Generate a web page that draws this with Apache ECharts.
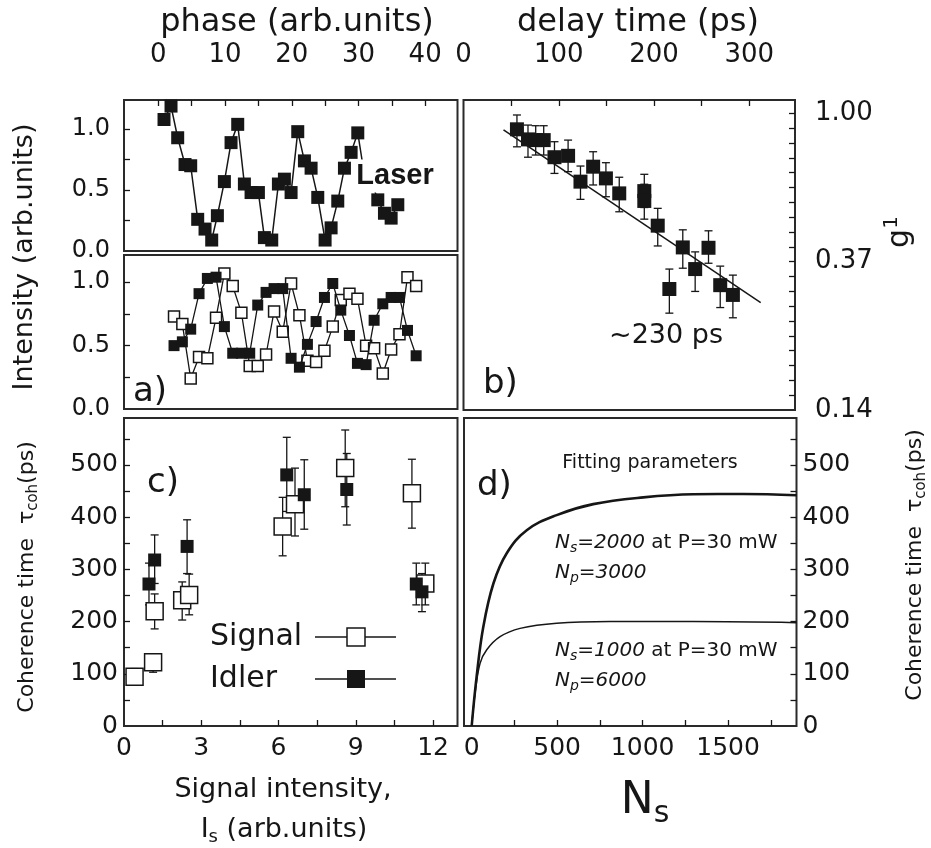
<!DOCTYPE html>
<html><head><meta charset="utf-8">
<script src="https://cdn.jsdelivr.net/npm/echarts@6/dist/echarts.min.js"></script>
<style>html,body{margin:0;padding:0;background:#fff}#c{width:931px;height:848px}</style>
</head><body><div id="c"></div>
<script>
// ---- panel a (top): laser ----
const laserPhase = [0.85,1.9,2.9,4.0,4.85,5.9,7.0,8.0,8.85,9.9,10.9,11.9,12.9,13.9,15.0,15.9,17.0,18.0,18.9,19.9,20.9,21.9,22.9,23.9,25.0,25.9,26.9,27.9,28.9,29.9,30.9,31.9,32.9,33.9,34.9,35.9];
const laserInt   = [1.08,1.19,0.93,0.71,0.70,0.26,0.18,0.09,0.29,0.57,0.89,1.04,0.55,0.48,0.48,0.11,0.09,0.55,0.59,0.48,0.98,0.74,0.68,0.44,0.09,0.19,0.41,0.68,0.81,0.97,0.62,0.58,0.42,0.31,0.27,0.38];
// ---- panel a (bottom): signal (open) and idler (filled) ----
const pairPhase = [2.35,3.6,4.85,6.1,7.35,8.65,9.9,11.15,12.45,13.7,14.9,16.15,17.35,18.65,19.9,21.15,22.35,23.65,24.9,26.15,27.35,28.65,29.85,31.15,32.35,33.65,34.9,36.15,37.35,38.65];
const idlerInt  = [0.50,0.53,0.63,0.91,1.03,1.04,0.65,0.44,0.44,0.44,0.82,0.92,0.95,0.95,0.40,0.33,0.51,0.69,0.88,0.99,0.78,0.58,0.36,0.35,0.70,0.83,0.88,0.88,0.62,0.42];
const signalInt = [0.73,0.67,0.24,0.41,0.40,0.72,1.07,0.97,0.76,0.34,0.34,0.43,0.77,0.61,0.99,0.74,0.38,0.37,0.46,0.65,0.86,0.91,0.87,0.50,0.48,0.28,0.47,0.59,1.04,0.97];
// ---- panel b: g1 vs delay time ----
const delayT = [56.1,67.7,75.8,84.2,95.5,109.8,122.8,136.1,149.5,163.5,189.8,189.8,203.9,216.1,230.2,243.2,257.2,269.5,282.8];
const g1     = [0.898,0.839,0.835,0.835,0.744,0.751,0.631,0.698,0.645,0.583,0.592,0.554,0.469,0.306,0.405,0.350,0.404,0.314,0.294];
const g1Lo   = [0.798,0.744,0.755,0.755,0.667,0.675,0.560,0.617,0.570,0.515,0.530,0.490,0.409,0.260,0.352,0.301,0.364,0.270,0.252];
const g1Hi   = [0.989,0.924,0.920,0.920,0.826,0.835,0.701,0.772,0.717,0.650,0.663,0.620,0.527,0.350,0.456,0.393,0.453,0.357,0.336];
const fitT = [42, 312];
const fitG = [0.894, 0.279];
// ---- panel c: coherence time vs signal intensity ----
const sigI   = [0.41,1.13,1.19,2.26,2.53,6.16,6.64,8.59,11.18,11.70];
const sigTau = [94.5,122,220,241,251,382,425,494,446,273];
const sigLo  = [78.5,103,186,203,213,326,364,420,379,232];
const sigHi  = [110,136,253,276,291,438,494,567,511,312];
const idlI   = [0.97,1.19,2.45,6.32,7.0,8.65,11.35,11.57];
const idlTau = [272,318,344,481,443,453,272,257];
const idlLo  = [232,273,292,411,377,385,232,219];
const idlHi  = [312,366,395,553,510,522,312,292];
// ---- panel d: fitted curves ----
const nsA  = [0,29,68,127,205,322,497,711,1004,1296,1588,1900];
const tauA = [0,95,190,273,331,375,404,425,438,444,444.5,442];
const nsB  = [0,20,49,88,166,283,497,809,1296,1900];
const tauB = [0,63,120,146,171,187,197,200,200,198];
// ---- tick labels ----
const phaseTicks = [0,10,20,30,40];
const delayTicks = [0,100,200,300];
const gTickLn    = [0,-1,-2];
const intTicks   = [0,0.5,1.0];
const isTicks    = [0,3,6,9,12];
const nsTicks    = [0,500,1000,1500];
const tauTicks   = [0,100,200,300,400,500];

const FONT = 'DejaVu Sans';
const INK = '#161616';
function range(a, b, s){ const r=[]; for(let v=a; v<=b+1e-9; v+=s) r.push(+v.toFixed(4)); return r; }

function axis(kind, grid, pos, min, max, labels, ticks, margin, fs, fmt){
  return {
    type:'value', gridIndex:grid, position:pos, min:min, max:max,
    axisLine:{show:false, onZero:false}, splitLine:{show:false},
    axisTick:{show: ticks!=null, inside:true, length:6, customValues:ticks||[], lineStyle:{color:INK,width:1.3}},
    axisLabel:{show: labels!=null, customValues:labels||[], margin:margin, fontSize:fs, fontFamily:FONT, color:INK,
      formatter: fmt || (v => String(v))}
  };
}

function errRender(params, api){
  const x = api.value(0);
  const lo = api.coord([x, api.value(1)]);
  const hi = api.coord([x, api.value(2)]);
  const cw = 4;
  const st = {stroke: INK, lineWidth: 1.3};
  return {type:'group', children:[
    {type:'line', shape:{x1:lo[0],y1:lo[1],x2:hi[0],y2:hi[1]}, style:st},
    {type:'line', shape:{x1:lo[0]-cw,y1:lo[1],x2:lo[0]+cw,y2:lo[1]}, style:st},
    {type:'line', shape:{x1:hi[0]-cw,y1:hi[1],x2:hi[0]+cw,y2:hi[1]}, style:st}
  ]};
}

const zip = (a,b) => a.map((v,i)=>[v,b[i]]);
const gridBase = {show:true, borderColor:'#2a2a2a', borderWidth:2, backgroundColor:'transparent', containLabel:false};

function txt(x, y, text, fs, opt){
  opt = opt || {};
  return {type:'text', x:x, y:y, z:100, rotation: opt.rot || 0,
    style: Object.assign({text:text, fontSize:fs, fontFamily:FONT, fill:INK,
      align: opt.align || 'center', verticalAlign: 'middle'}, opt.style || {})};
}

const subRich = (fs) => ({
  n:{fontSize:fs, fontFamily:FONT, fill:INK},
  ni:{fontSize:fs, fontFamily:FONT, fill:INK, fontStyle:'italic'},
  s:{fontSize:Math.round(fs*0.68), fontFamily:FONT, fill:INK, padding:[Math.round(fs*0.55),0,0,0]},
  si:{fontSize:Math.round(fs*0.68), fontFamily:FONT, fill:INK, fontStyle:'italic', padding:[Math.round(fs*0.55),0,0,0]},
  sup:{fontSize:Math.round(fs*0.68), fontFamily:FONT, fill:INK, padding:[0,0,Math.round(fs*0.55),0]}
});

const option = {
  animation:false,
  backgroundColor:'#fff',
  grid:[
    Object.assign({left:124, top:100, width:333.5, height:151}, gridBase),
    Object.assign({left:124, top:255, width:333.5, height:154}, gridBase),
    Object.assign({left:463.5, top:100, width:331.5, height:310}, gridBase),
    Object.assign({left:124, top:418, width:333.5, height:308}, gridBase),
    Object.assign({left:464, top:418, width:332.5, height:308}, gridBase)
  ],
  xAxis:[
    axis('x',0,'top',-5.15,44.85,phaseTicks,range(0,40,5),32,26),
    axis('x',1,'bottom',-5.15,44.85,null,null,8,26),
    axis('x',2,'top',0,348,delayTicks,range(50,300,50),32,26),
    axis('x',3,'bottom',0,12.95,isTicks,range(1.5,12,1.5),10,25),
    axis('x',4,'bottom',-45,1900,nsTicks,range(250,1750,250),10,25)
  ],
  yAxis:[
    axis('y',0,'left',0,1.24,intTicks,range(0.25,1,0.25),14,24,v=>v.toFixed(1)),
    axis('y',1,'left',0,1.215,intTicks,range(0.25,1,0.25),14,24,v=>v.toFixed(1)),
    axis('y',2,'right',-2,0.09,gTickLn,range(-1.9,0,0.1),20,26,v=>Math.exp(v).toFixed(2)),
    axis('y',3,'left',0,590,tauTicks,range(50,550,50),6,25),
    axis('y',4,'right',0,590,tauTicks,range(50,550,50),6,25)
  ],
  series:[
    {type:'line', xAxisIndex:0, yAxisIndex:0, data:zip(laserPhase,laserInt), symbol:'rect', symbolSize:13,
      itemStyle:{color:INK, opacity:1}, lineStyle:{color:INK,width:1.5}, z:3},
    {type:'line', xAxisIndex:1, yAxisIndex:1, data:zip(pairPhase,signalInt), symbol:'rect', symbolSize:11,
      itemStyle:{color:'#fff', borderColor:INK, borderWidth:1.5, opacity:1}, lineStyle:{color:INK,width:1.3}, z:3},
    {type:'line', xAxisIndex:1, yAxisIndex:1, data:zip(pairPhase,idlerInt), symbol:'rect', symbolSize:11,
      itemStyle:{color:INK, opacity:1}, lineStyle:{color:INK,width:1.3}, z:4},
    {type:'custom', xAxisIndex:2, yAxisIndex:2, renderItem:errRender, encode:{x:0,y:[1,2]},
      data: delayT.map((t,i)=>[t, Math.log(g1Lo[i]), Math.log(g1Hi[i])]), z:2},
    {type:'line', xAxisIndex:2, yAxisIndex:2, data: fitT.map((t,i)=>[t, Math.log(fitG[i])]), showSymbol:false,
      lineStyle:{color:INK,width:1.5}, z:3},
    {type:'scatter', xAxisIndex:2, yAxisIndex:2, data: delayT.map((t,i)=>[t, Math.log(g1[i])]), symbol:'rect', symbolSize:14,
      itemStyle:{color:INK, opacity:1}, z:4},
    {type:'custom', xAxisIndex:3, yAxisIndex:3, renderItem:errRender, encode:{x:0,y:[1,2]},
      data: sigI.map((v,i)=>[v, sigLo[i], sigHi[i]]), z:2},
    {type:'custom', xAxisIndex:3, yAxisIndex:3, renderItem:errRender, encode:{x:0,y:[1,2]},
      data: idlI.map((v,i)=>[v, idlLo[i], idlHi[i]]), z:2},
    {type:'scatter', xAxisIndex:3, yAxisIndex:3, data: zip(sigI,sigTau), symbol:'rect', symbolSize:17,
      itemStyle:{color:'#fff', borderColor:INK, borderWidth:1.5, opacity:1}, z:3},
    {type:'scatter', xAxisIndex:3, yAxisIndex:3, data: zip(idlI,idlTau), symbol:'rect', symbolSize:13,
      itemStyle:{color:INK, opacity:1}, z:4},
    {type:'line', xAxisIndex:4, yAxisIndex:4, data: zip(nsA,tauA), showSymbol:false, smooth:0.4,
      lineStyle:{color:INK,width:2.6}, z:3},
    {type:'line', xAxisIndex:4, yAxisIndex:4, data: zip(nsB,tauB), showSymbol:false, smooth:0.4,
      lineStyle:{color:INK,width:1.5}, z:3}
  ],
  graphic:[
    txt(297, 23, 'phase (arb.units)', 32),
    txt(638, 23, 'delay time (ps)', 32),
    txt(25, 257, 'Intensity (arb.units)', 27, {rot:Math.PI/2}),
    txt(900, 232, '{n|g}{sup|1}', 30, {rot:Math.PI/2, style:{rich:subRich(30)}}),
    txt(395, 176, 'Laser', 29, {style:{fontFamily:'Liberation Sans', fontWeight:'bold', backgroundColor:'#fff', padding:[2,3,2,3]}}),
    txt(133, 392, 'a)', 34, {align:'left'}),
    txt(483, 384, 'b)', 34, {align:'left'}),
    txt(147, 483, 'c)', 34, {align:'left'}),
    txt(477, 486, 'd)', 34, {align:'left'}),
    txt(666, 336, '~230 ps', 27),
    // legend of panel c
    txt(210, 637, 'Signal', 30, {align:'left'}),
    txt(210, 679, 'Idler', 30, {align:'left'}),
    {type:'line', z:100, shape:{x1:315,y1:637,x2:396,y2:637}, style:{stroke:INK, lineWidth:1.5}},
    {type:'rect', z:101, shape:{x:347,y:628,width:18,height:18}, style:{fill:'#fff', stroke:INK, lineWidth:1.5}},
    {type:'line', z:100, shape:{x1:315,y1:679,x2:396,y2:679}, style:{stroke:INK, lineWidth:1.5}},
    {type:'rect', z:101, shape:{x:347,y:670,width:18,height:18}, style:{fill:INK}},
    // axis titles of panel c / d
    txt(283, 790, 'Signal intensity,', 27),
    txt(284, 830, '{n|I}{s|s}{n| (arb.units)}', 27, {style:{rich:subRich(27)}}),
    txt(27, 577, '{n|Coherence time  τ}{s|coh}{n|(ps)}', 22, {rot:Math.PI/2, style:{rich:subRich(22)}}),
    txt(915, 565, '{n|Coherence time  τ}{s|coh}{n|(ps)}', 22, {rot:Math.PI/2, style:{rich:subRich(22)}}),
    txt(645, 802, '{n|N}{s|s}', 44, {style:{rich:subRich(44)}}),
    txt(650, 463, 'Fitting parameters', 19),
    txt(555, 543, '{ni|N}{si|s}{ni|=2000}{n| at P=30 mW}', 20, {align:'left', style:{rich:subRich(20)}}),
    txt(555, 573, '{ni|N}{si|p}{ni|=3000}', 20, {align:'left', style:{rich:subRich(20)}}),
    txt(555, 651, '{ni|N}{si|s}{ni|=1000}{n| at P=30 mW}', 20, {align:'left', style:{rich:subRich(20)}}),
    txt(555, 681, '{ni|N}{si|p}{ni|=6000}', 20, {align:'left', style:{rich:subRich(20)}})
  ]
};
const chart = echarts.init(document.getElementById('c'), null, {renderer:'canvas'});
chart.setOption(option);
</script>
</body></html>
